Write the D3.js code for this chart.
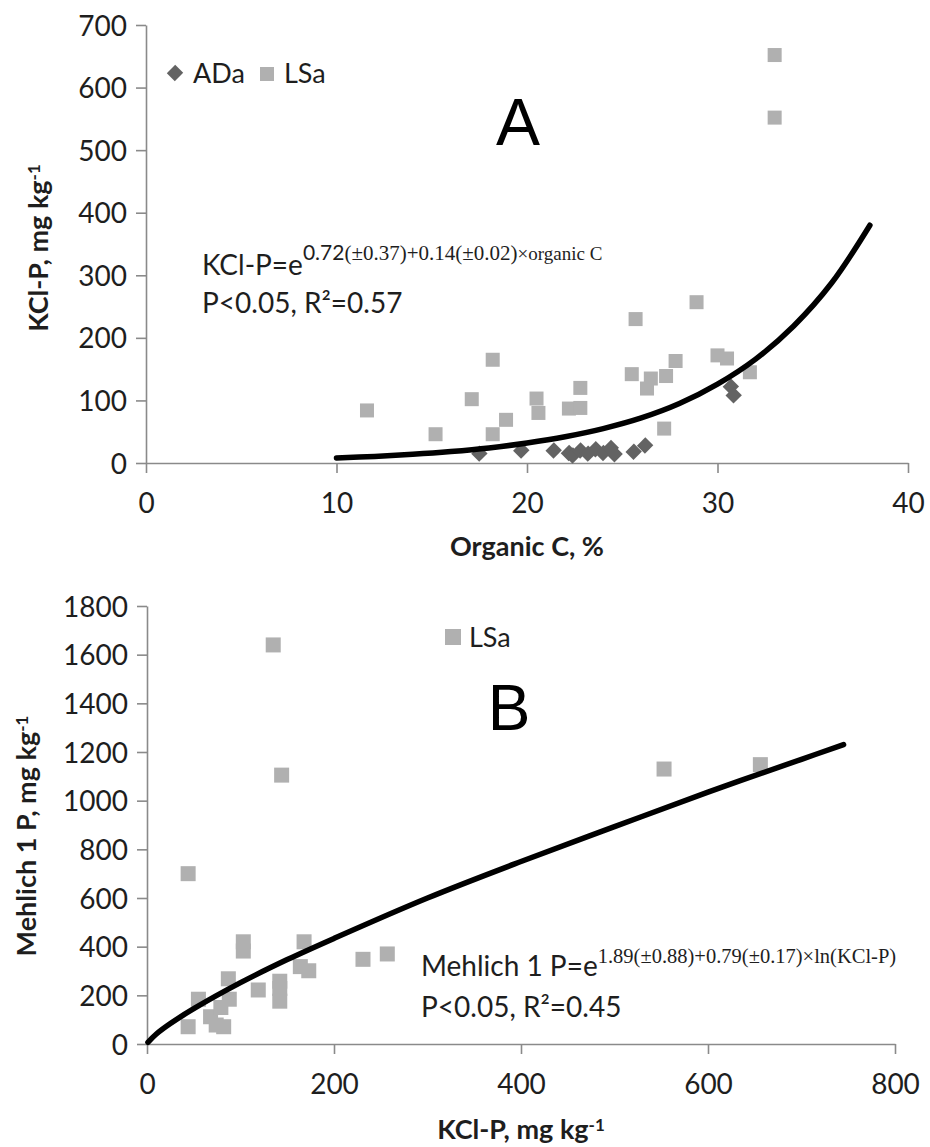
<!DOCTYPE html>
<html>
<head>
<meta charset="utf-8">
<script src="https://cdn.jsdelivr.net/npm/d3@7"></script>
<style>
  html, body { margin: 0; padding: 0; background: #ffffff; }
  svg { display: block; }
</style>
</head>
<body>
<svg id="chart" width="930" height="1147"></svg>
<script>
// ---------- Panel A: KCl-P versus organic C ----------
const organicC_ADa = [17.5, 19.7, 21.4, 22.2, 22.4, 22.8, 23.2, 23.6, 24.0, 24.4, 24.6, 25.6, 26.2, 30.7, 30.85];
const kclP_ADa     = [15, 20, 20, 16, 12, 20, 15, 22, 16, 24, 14, 18, 28, 122, 108];

const organicC_LSa = [11.6, 15.2, 17.1, 18.2, 18.2, 18.9, 20.5, 20.6, 22.2, 22.8, 22.8, 25.5, 25.7, 26.3, 26.5, 27.3, 27.8, 27.2, 28.9, 30.0, 30.5, 31.7, 33.0, 33.0];
const kclP_LSa     = [84, 46, 102, 165, 46, 69, 103, 80, 87, 88, 120, 142, 230, 119, 135, 139, 163, 55, 257, 172, 167, 145, 652, 552];

// exponential trend line, sampled along organic C
const fitA_C = [10, 12, 14, 16, 18, 20, 22, 24, 26, 28, 30, 32, 34, 36, 38];
const fitA_P = [8, 10.5, 13.8, 18.2, 24, 32, 42, 55, 72, 95, 126, 166, 219, 288, 380];

const ticksA_x = [0, 10, 20, 30, 40];
const ticksA_y = [0, 100, 200, 300, 400, 500, 600, 700];

// ---------- Panel B: Mehlich 1 P versus KCl-P ----------
const kclP_B    = [44, 44, 55, 68, 74, 82, 79, 88, 87, 103, 103, 119, 142, 142, 142, 164, 168, 173, 231, 257, 135, 144, 553, 656];
const mehlich_B = [700, 71, 184, 112, 78, 71, 150, 184, 268, 420, 382, 222, 258, 228, 176, 318, 420, 301, 348, 370, 1640, 1105, 1130, 1148];

// power-law trend line, sampled along KCl-P
const fitB_K = [1, 10, 25, 50, 100, 150, 200, 300, 400, 500, 600, 700, 745];
const fitB_M = [7, 41, 84, 145, 252, 347, 434, 600, 750, 893, 1035, 1170, 1230];

const ticksB_x = [0, 200, 400, 600, 800];
const ticksB_y = [0, 200, 400, 600, 800, 1000, 1200, 1400, 1600, 1800];

// ---------- shared styling ----------
const SANS = "Lato, 'Open Sans', sans-serif";
const SERIF = "'Liberation Serif', 'DejaVu Serif', serif";
const AXIS_COLOR = "#8a8a8a";
const TEXT_COLOR = "#1e1e1e";
const LSA_COLOR = "#b0b0b0";
const ADA_COLOR = "#636363";

const svg = d3.select("#chart");

function drawAxes(g, x, y, xt, yt) {
  const ax = g.append("g")
    .attr("transform", `translate(0,${y(0)})`)
    .call(d3.axisBottom(x).tickValues(xt).tickSize(10).tickSizeOuter(0).tickFormat(d3.format("d")));
  const ay = g.append("g")
    .attr("transform", `translate(${x(0)},0)`)
    .call(d3.axisLeft(y).tickValues(yt).tickSize(10).tickSizeOuter(0).tickFormat(d3.format("d")));
  [ax, ay].forEach(a => {
    a.select(".domain").attr("stroke", AXIS_COLOR).attr("stroke-width", 1.6);
    a.selectAll(".tick line").attr("stroke", AXIS_COLOR).attr("stroke-width", 1.6);
    a.selectAll("text")
      .attr("fill", TEXT_COLOR)
      .style("font-family", SANS)
      .style("font-size", "28px");
  });
  ax.selectAll("text").attr("y", 40).attr("dy", "0.36em");
  ay.selectAll("text").attr("x", -19).attr("dy", "0.36em");
}

function squares(g, xs, ys, x, y, size, color) {
  g.append("g").selectAll("rect")
    .data(xs.map((v, i) => [v, ys[i]]))
    .join("rect")
    .attr("x", d => x(d[0]) - size / 2)
    .attr("y", d => y(d[1]) - size / 2)
    .attr("width", size)
    .attr("height", size)
    .attr("fill", color);
}

function diamonds(g, xs, ys, x, y, area, color) {
  const sym = d3.symbol().type(d3.symbolSquare).size(area);
  g.append("g").selectAll("path")
    .data(xs.map((v, i) => [v, ys[i]]))
    .join("path")
    .attr("d", sym)
    .attr("transform", d => `translate(${x(d[0])},${y(d[1])}) rotate(45) scale(1,1.05)`)
    .attr("fill", color);
}

function trend(g, xs, ys, x, y) {
  const line = d3.line().x(d => x(d[0])).y(d => y(d[1])).curve(d3.curveCatmullRom.alpha(0.5));
  g.append("path")
    .datum(xs.map((v, i) => [v, ys[i]]))
    .attr("d", line)
    .attr("fill", "none")
    .attr("stroke", "#000")
    .attr("stroke-width", 5.5)
    .attr("stroke-linecap", "round")
    .attr("stroke-linejoin", "round");
}

// ================= Panel A =================
const xA = d3.scaleLinear().domain([0, 40]).range([146, 908]);
const yA = d3.scaleLinear().domain([0, 700]).range([463, 25]);
const gA = svg.append("g");

drawAxes(gA, xA, yA, ticksA_x, ticksA_y);
diamonds(gA, organicC_ADa, kclP_ADa, xA, yA, 128, ADA_COLOR);
squares(gA, organicC_LSa, kclP_LSa, xA, yA, 14, LSA_COLOR);
trend(gA, fitA_C, fitA_P, xA, yA);

// axis titles
gA.append("text")
  .attr("x", (xA(0) + xA(40)) / 2).attr("y", 546).attr("dy", "0.36em")
  .attr("text-anchor", "middle")
  .style("font-family", SANS).style("font-size", "27px").style("font-weight", "bold")
  .attr("fill", TEXT_COLOR)
  .text("Organic C, %");

const ytA = gA.append("text")
  .attr("transform", "translate(38,248) rotate(-90)")
  .attr("text-anchor", "middle").attr("dy", "0.36em")
  .style("font-family", SANS).style("font-size", "27px").style("font-weight", "bold")
  .attr("fill", TEXT_COLOR);
ytA.append("tspan").text("KCl-P, mg kg");
ytA.append("tspan").attr("dy", "-0.45em").style("font-size", "17px").text("-1");

// panel letter
gA.append("text")
  .attr("x", 518).attr("y", 145)
  .attr("text-anchor", "middle")
  .style("font-family", "'Liberation Sans', Arial, sans-serif").style("font-size", "66px")
  .attr("fill", "#000")
  .text("A");

// legend
const legA = gA.append("g");
legA.append("path")
  .attr("d", d3.symbol().type(d3.symbolSquare).size(128)())
  .attr("transform", "translate(175,73) rotate(45) scale(1,1.05)")
  .attr("fill", ADA_COLOR);
legA.append("text")
  .attr("x", 193).attr("y", 73).attr("dy", "0.36em")
  .style("font-family", SANS).style("font-size", "27px")
  .attr("fill", TEXT_COLOR).text("ADa");
legA.append("rect")
  .attr("x", 260).attr("y", 67).attr("width", 14).attr("height", 14)
  .attr("fill", LSA_COLOR);
legA.append("text")
  .attr("x", 284).attr("y", 73).attr("dy", "0.36em")
  .style("font-family", SANS).style("font-size", "27px")
  .attr("fill", TEXT_COLOR).text("LSa");

// regression equation
const eqA = gA.append("text")
  .attr("x", 202).attr("y", 275)
  .style("font-family", SANS).style("font-size", "28px")
  .attr("fill", TEXT_COLOR);
eqA.append("tspan").text("KCl-P=e");
eqA.append("tspan").attr("dy", -15).style("font-size", "21px").text("0.72");
eqA.append("tspan").style("font-family", SERIF).style("font-size", "21px").text("(±0.37)+0.14(±0.02)");
eqA.append("tspan").style("font-family", SERIF).style("font-size", "19px").text("×organic C");

gA.append("text")
  .attr("x", 202).attr("y", 313)
  .style("font-family", SANS).style("font-size", "28px")
  .attr("fill", TEXT_COLOR)
  .text("P<0.05, R²=0.57");

// ================= Panel B =================
const xB = d3.scaleLinear().domain([0, 800]).range([147, 895]);
const yB = d3.scaleLinear().domain([0, 1800]).range([1044, 606]);
const gB = svg.append("g");

drawAxes(gB, xB, yB, ticksB_x, ticksB_y);
squares(gB, kclP_B, mehlich_B, xB, yB, 15, LSA_COLOR);
trend(gB, fitB_K, fitB_M, xB, yB);

gB.append("text")
  .attr("x", (xB(0) + xB(800)) / 2).attr("y", 1129).attr("dy", "0.36em")
  .attr("text-anchor", "middle")
  .style("font-family", SANS).style("font-size", "27px").style("font-weight", "bold")
  .attr("fill", TEXT_COLOR)
  .call(t => {
    t.append("tspan").text("KCl-P, mg kg");
    t.append("tspan").attr("dy", "-0.45em").style("font-size", "17px").text("-1");
  });

const ytB = gB.append("text")
  .attr("transform", "translate(26,836) rotate(-90)")
  .attr("text-anchor", "middle").attr("dy", "0.36em")
  .style("font-family", SANS).style("font-size", "27px").style("font-weight", "bold")
  .attr("fill", TEXT_COLOR);
ytB.append("tspan").text("Mehlich 1 P, mg kg");
ytB.append("tspan").attr("dy", "-0.45em").style("font-size", "17px").text("-1");

gB.append("text")
  .attr("x", 509).attr("y", 730)
  .attr("text-anchor", "middle")
  .style("font-family", "'Liberation Sans', Arial, sans-serif").style("font-size", "64px")
  .attr("fill", "#000")
  .text("B");

// legend
gB.append("rect")
  .attr("x", 445).attr("y", 629).attr("width", 16).attr("height", 16)
  .attr("fill", LSA_COLOR);
gB.append("text")
  .attr("x", 469).attr("y", 637).attr("dy", "0.36em")
  .style("font-family", SANS).style("font-size", "27px")
  .attr("fill", TEXT_COLOR).text("LSa");

// regression equation
const eqB = gB.append("text")
  .attr("x", 421).attr("y", 976)
  .style("font-family", SANS).style("font-size", "28px")
  .attr("fill", TEXT_COLOR);
eqB.append("tspan").text("Mehlich 1 P=e");
eqB.append("tspan").attr("dy", -13).style("font-family", SERIF).style("font-size", "20.5px")
  .text("1.89(±0.88)+0.79(±0.17)×ln(KCl-P)");

gB.append("text")
  .attr("x", 421).attr("y", 1017)
  .style("font-family", SANS).style("font-size", "28px")
  .attr("fill", TEXT_COLOR)
  .text("P<0.05, R²=0.45");
</script>
</body>
</html>
